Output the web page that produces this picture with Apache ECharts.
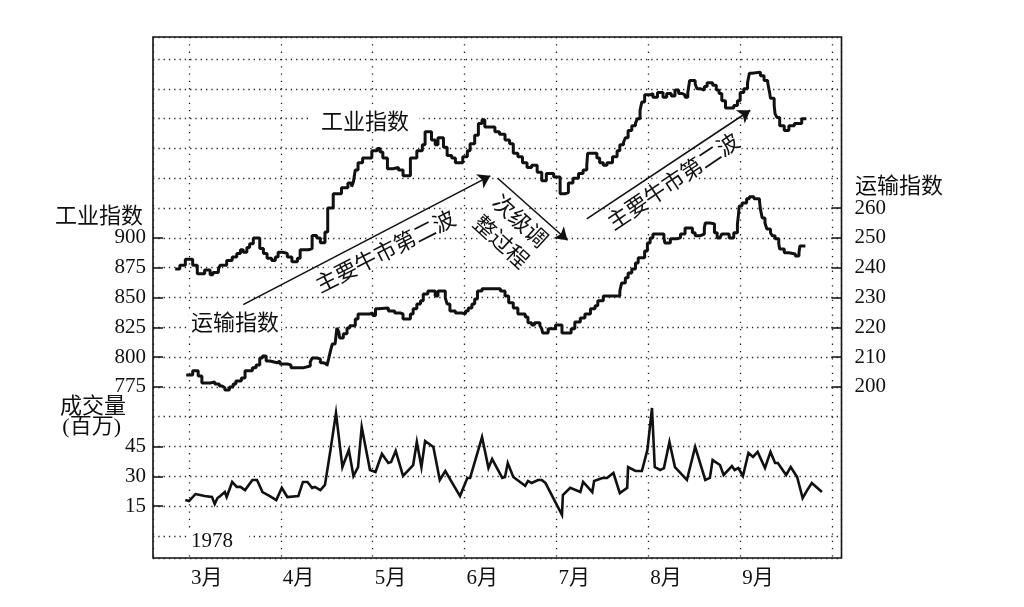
<!DOCTYPE html>
<html>
<head>
<meta charset="utf-8">
<script src="https://cdn.jsdelivr.net/npm/echarts@6.0.0/dist/echarts.min.js"></script>
<style>html,body{margin:0;padding:0;background:#fff}#c{width:1024px;height:607px}</style>
</head>
<body>
<div id="c"></div>
<script>
// x values are in months: 3 = 1 March 1978, 4 = 1 April, ...
const monthTicks = [3, 4, 5, 6, 7, 8, 9];
const industrialTicks = [775, 800, 825, 850, 875, 900];
const transportTicks = [200, 210, 220, 230, 240, 250, 260];
const volumeTicks = [15, 30, 45];

// Dow Jones Industrial Average (daily close, step line)
const industrialData = [
[2.85,874],[2.90,877],[2.96,882],[3.04,877],[3.09,870],[3.17,873],[3.23,869],[3.26,871],[3.32,874],[3.34,877],
[3.41,881],[3.47,884],[3.52,887],[3.56,890],[3.59,888],[3.63,892],[3.66,895],[3.70,900],[3.77,891],[3.81,887],
[3.85,883],[3.90,881],[3.94,884],[3.97,888],[4.02,887],[4.07,884],[4.12,880],[4.18,883],[4.21,890],[4.30,891],
[4.34,902],[4.39,900],[4.43,896],[4.48,905],[4.51,925],[4.57,937],[4.66,942],[4.73,946],[4.77,943],[4.79,947],
[4.81,957],[4.84,963],[4.89,967],[4.99,973],[5.05,975],[5.08,972],[5.11,967],[5.16,958],[5.22,959],[5.28,957],
[5.33,952],[5.41,967],[5.48,973],[5.54,978],[5.57,989],[5.64,982],[5.68,978],[5.71,984],[5.77,976],[5.81,969],
[5.86,967],[5.90,963],[5.98,968],[6.03,973],[6.06,979],[6.11,986],[6.15,996],[6.19,999],[6.22,993],[6.33,989],
[6.38,987],[6.44,982],[6.49,979],[6.53,971],[6.58,968],[6.63,963],[6.68,959],[6.73,961],[6.79,955],[6.84,948],
[6.89,954],[6.97,951],[7.04,937],[7.09,938],[7.13,946],[7.18,950],[7.24,954],[7.29,957],[7.33,961],[7.34,971],
[7.44,967],[7.47,963],[7.51,961],[7.55,963],[7.61,968],[7.66,973],[7.69,978],[7.73,980],[7.75,984],[7.78,990],
[7.82,994],[7.86,996],[7.88,1000],[7.91,1007],[7.93,1014],[7.96,1020],[8.02,1021],[8.05,1018],[8.10,1022],[8.16,1018],
[8.20,1021],[8.25,1019],[8.29,1024],[8.33,1021],[8.37,1020],[8.40,1018],[8.43,1022],[8.45,1032],[8.51,1029],[8.53,1025],
[8.57,1024],[8.61,1027],[8.64,1030],[8.70,1028],[8.74,1024],[8.77,1021],[8.80,1015],[8.84,1009],[8.87,1009],[8.93,1011],
[8.97,1015],[9.00,1022],[9.04,1025],[9.08,1030],[9.10,1038],[9.13,1039],[9.22,1036],[9.26,1032],[9.30,1030],[9.32,1022],
[9.33,1017],[9.37,1011],[9.38,1004],[9.40,1001],[9.43,994],[9.48,990],[9.53,994],[9.59,996],[9.67,1000],[9.72,1000]
];

// Dow Jones Transportation Average (daily close, step line)
const transportData = [
[2.97,204],[3.04,205.4],[3.10,203.7],[3.14,201.3],[3.23,201.7],[3.28,201],[3.33,200.3],[3.36,199.7],[3.39,199],[3.44,200],
[3.48,201],[3.51,202],[3.57,203],[3.61,205.4],[3.69,206.4],[3.73,207.4],[3.77,209.7],[3.80,210.4],[3.84,208.7],[3.88,208.1],
[3.96,208.7],[3.99,207.7],[4.07,207.4],[4.11,206.4],[4.24,207],[4.32,208.4],[4.34,209.7],[4.39,209.4],[4.43,208.1],[4.46,207.7],
[4.50,207],[4.52,209.4],[4.54,212.1],[4.56,214.4],[4.59,214.8],[4.61,219.8],[4.63,218.5],[4.64,216.4],[4.68,217.8],[4.72,219.8],
[4.75,220.5],[4.81,222.8],[4.84,224.5],[4.97,224.8],[5.00,224],[5.03,226.2],[5.06,226.5],[5.17,225.5],[5.24,224.8],[5.30,224.5],
[5.33,222.8],[5.41,224.5],[5.44,226.2],[5.48,227.8],[5.52,228.9],[5.55,231.2],[5.60,232.2],[5.68,230.5],[5.71,232.2],[5.79,229.9],
[5.81,227.8],[5.84,225.5],[5.90,224.8],[5.97,224.5],[6.01,225.5],[6.04,226.5],[6.08,227.8],[6.11,229.5],[6.14,232.2],[6.19,232.9],
[6.39,232.2],[6.44,230.5],[6.48,228.2],[6.53,226.5],[6.58,224.5],[6.66,223.5],[6.69,221.5],[6.73,220.8],[6.76,221.5],[6.82,220.5],
[6.84,219.5],[6.85,218.1],[6.91,219.5],[6.99,220.8],[7.06,218.1],[7.16,219.5],[7.20,221.8],[7.26,223.1],[7.31,224.5],[7.37,226.2],
[7.42,227.2],[7.45,228.9],[7.51,230.5],[7.69,232.2],[7.71,234.9],[7.75,236.6],[7.78,238.2],[7.82,239.6],[7.86,241.6],[7.89,243.3],
[7.96,245.6],[7.99,248.3],[8.02,250],[8.05,251.3],[8.17,250],[8.18,248.3],[8.24,249.7],[8.31,250],[8.35,251.3],[8.40,253.3],
[8.48,251.7],[8.51,250.7],[8.56,251.3],[8.61,253.3],[8.62,255],[8.67,254.7],[8.72,251.7],[8.75,250],[8.78,249.7],[8.80,251.3],
[8.88,250],[8.93,251.7],[8.97,254.7],[8.98,257.4],[8.99,260.7],[9.02,261.7],[9.07,263.1],[9.10,263.8],[9.15,263.1],[9.21,262.4],
[9.22,259.7],[9.24,256.7],[9.27,255],[9.29,253],[9.33,251.7],[9.35,250.7],[9.38,249.7],[9.42,248],[9.43,246.3],[9.48,245],
[9.53,244.6],[9.60,243.9],[9.64,245],[9.65,247.3],[9.71,247.3]
];

// NYSE volume, millions of shares
const volumeData = [
[2.96,18.1],[3.00,17.6],[3.07,21.1],[3.12,20.6],[3.17,20.1],[3.25,19.6],[3.28,16.1],[3.31,19.1],[3.34,20.1],[3.39,22.1],
[3.41,19.6],[3.47,27.2],[3.52,24.7],[3.56,24.7],[3.61,23.1],[3.69,28.2],[3.74,28.2],[3.80,22.1],[3.88,20.1],[3.95,18.1],
[4.01,24.2],[4.07,19.6],[4.19,20.1],[4.24,27.2],[4.29,27.2],[4.34,24.2],[4.37,24.7],[4.43,23.1],[4.48,25.7],[4.54,43.3],
[4.60,61.9],[4.67,34.7],[4.69,34.7],[4.74,43.3],[4.79,30.2],[4.84,34.7],[4.88,54.8],[4.97,33.2],[5.03,32.2],[5.10,41.3],
[5.17,36.7],[5.20,37.2],[5.25,42.8],[5.33,30.2],[5.44,35.7],[5.48,47.3],[5.53,34.7],[5.57,47.8],[5.60,46.8],[5.66,44.8],
[5.73,28.2],[5.79,32.7],[5.95,20.1],[6.03,29.2],[6.06,29.2],[6.19,49.8],[6.26,34.2],[6.30,38.7],[6.41,29.2],[6.44,29.7],
[6.47,36.7],[6.53,29.7],[6.66,25.2],[6.69,27.7],[6.73,26.7],[6.80,28.2],[6.84,28.2],[6.88,26.7],[6.96,19.6],[7.06,10.6],
[7.07,20.6],[7.15,24.2],[7.26,22.1],[7.29,27.2],[7.39,22.1],[7.41,27.7],[7.50,29.2],[7.55,29.2],[7.62,31.7],[7.69,21.6],
[7.77,24.2],[7.78,34.7],[7.86,32.7],[7.93,32.7],[7.99,43.3],[8.04,64.4],[8.07,34.7],[8.13,33.2],[8.17,34.2],[8.23,47.3],
[8.29,34.7],[8.42,28.2],[8.51,44.8],[8.62,28.2],[8.67,29.2],[8.70,38.2],[8.78,35.7],[8.82,30.7],[8.91,35.2],[8.94,33.2],
[8.98,34.2],[9.03,30.2],[9.09,41.8],[9.14,39.8],[9.19,42.3],[9.27,34.2],[9.33,42.3],[9.38,36.7],[9.41,36.7],[9.50,30.7],
[9.55,34.7],[9.62,29.7],[9.68,19.1],[9.73,23.1],[9.78,26.7],[9.89,22.1]
];

// Annotation arrows, in [month, industrial index] coordinates
const arrowPrimary1 = [[3.59, 844], [6.28, 952]];
const arrowSecondary = [[6.36, 950], [7.12, 898]];
const arrowPrimary2 = [[7.33, 916], [9.11, 1007]];

const INK = '#111';
const SERIF = '"Liberation Serif", "Noto Sans CJK SC", serif';
const CJK = '"Noto Sans CJK SC", sans-serif';

const chart = echarts.init(document.getElementById('c'), null, {renderer: 'canvas'});

const xMin = 2.608, xMax = 10.103;   // frame edges in months
const u0 = -0.738, u1 = 16.738;      // frame edges in grid-row units
const dotted = {color: '#222', width: 1.3, type: [1.3, 4]};
const dottedV = {color: '#222', width: 1.3, type: [1.3, 6]};

function tickAxis(extra) {
  return Object.assign({
    type: 'value',
    axisLine: {show: false},
    splitLine: {show: false},
    axisLabel: {fontFamily: SERIF, fontSize: 21, color: INK},
    axisTick: {inside: true, length: 10, lineStyle: {color: INK, width: 1.5}}
  }, extra);
}

const option = {
  animation: false,
  backgroundColor: '#fff',
  grid: {left: 153, right: 182.5, top: 37, bottom: 49, show: true,
         borderColor: INK, borderWidth: 1.6, backgroundColor: 'transparent'},
  xAxis: [
    {type: 'value', min: xMin, max: xMax, position: 'bottom',
     axisLine: {show: false}, axisTick: {show: false}, splitLine: {show: false},
     axisLabel: {customValues: monthTicks, formatter: v => v + '月', align: 'left',
                 padding: [0, 0, 0, 2], margin: 10, fontFamily: SERIF, fontSize: 21, color: INK}},
    {type: 'value', min: xMin, max: xMax, position: 'bottom', minInterval: 1, maxInterval: 1, splitNumber: 7,
     axisLine: {show: false}, axisTick: {show: false}, axisLabel: {show: false},
     splitLine: {show: true, lineStyle: dottedV}}
  ],
  yAxis: [
    tickAxis({position: 'left', min: 650 + 25 * u0, max: 650 + 25 * u1,
      axisLabel: {customValues: industrialTicks, margin: 7, fontFamily: SERIF, fontSize: 21, color: INK},
      axisTick: {customValues: industrialTicks, inside: true, length: 10, lineStyle: {color: INK, width: 1.5}}}),
    tickAxis({position: 'right', min: 150 + 10 * u0, max: 150 + 10 * u1,
      axisLabel: {customValues: transportTicks, margin: 13, fontFamily: SERIF, fontSize: 21, color: INK},
      axisTick: {customValues: transportTicks, inside: true, length: 10, lineStyle: {color: INK, width: 1.5}}}),
    tickAxis({position: 'left', min: 15 * u0, max: 15 * u1,
      axisLabel: {customValues: volumeTicks, margin: 7, fontFamily: SERIF, fontSize: 21, color: INK},
      axisTick: {customValues: volumeTicks, inside: true, length: 10, lineStyle: {color: INK, width: 1.5}}}),
    {type: 'value', min: u0, max: u1, position: 'left', minInterval: 1, maxInterval: 1, splitNumber: 17,
     axisLine: {show: false}, axisTick: {show: false}, axisLabel: {show: false},
     splitLine: {show: true, lineStyle: dotted}}
  ],
  series: [
    {name: '工业指数', type: 'line', step: 'end', xAxisIndex: 0, yAxisIndex: 0, data: industrialData,
     showSymbol: false, symbol: 'none', lineStyle: {color: INK, width: 3}, silent: true, z: 3,
     markLine: {silent: true, symbol: ['none', 'arrow'], symbolSize: 12, symbolOffset: 0,
       label: {show: false}, lineStyle: {color: INK, width: 1.6, type: 'solid'},
       itemStyle: {color: INK},
       data: [arrowPrimary1, arrowSecondary, arrowPrimary2].map(a => [{coord: a[0]}, {coord: a[1]}])}},
    {name: '运输指数', type: 'line', step: 'end', xAxisIndex: 0, yAxisIndex: 1, data: transportData,
     showSymbol: false, symbol: 'none', lineStyle: {color: INK, width: 3}, silent: true, z: 3},
    {name: '成交量', type: 'line', xAxisIndex: 0, yAxisIndex: 2, data: volumeData,
     showSymbol: false, symbol: 'none', lineStyle: {color: INK, width: 2.6, join: 'miter'}, silent: true, z: 3}
  ],
  graphic: [
    {type: 'text', x: 143, y: 215, z: 1, style: {text: '工业指数', font: '22px ' + CJK, fill: INK, align: 'right', verticalAlign: 'middle'}},
    {type: 'text', x: 855, y: 185, z: 1, style: {text: '运输指数', font: '22px ' + CJK, fill: INK, align: 'left', verticalAlign: 'middle'}},
    {type: 'text', x: 126, y: 405, z: 1, style: {text: '成交量', font: '22px ' + CJK, fill: INK, align: 'right', verticalAlign: 'middle'}},
    {type: 'text', x: 121, y: 427, z: 1, style: {text: '(百万)', font: '22px ' + SERIF, fill: INK, align: 'right', verticalAlign: 'middle'}},
    {type: 'text', x: 365, y: 121, z: 1, style: {text: '工业指数', font: '22px ' + CJK, fill: INK, align: 'center', verticalAlign: 'middle', backgroundColor: '#fff', padding: [0, 10]}},
    {type: 'text', x: 235, y: 322, z: 1, style: {text: '运输指数', font: '22px ' + CJK, fill: INK, align: 'center', verticalAlign: 'middle', backgroundColor: '#fff', padding: [0, 2]}},
    {type: 'text', x: 188, y: 541, z: 1, style: {text: '1978', font: '21px ' + SERIF, fill: INK, align: 'left', verticalAlign: 'middle', backgroundColor: '#fff', padding: [2, 16, 2, 3]}},
    {type: 'text', x: 385, y: 251, rotation: 0.47, z: 1, style: {text: '主要牛市第二波', font: '22px ' + CJK, fill: INK, align: 'center', verticalAlign: 'middle', backgroundColor: '#fff', padding: [0, 2]}},
    {type: 'text', x: 511, y: 231, rotation: -0.74, z: 1, style: {text: '次级调\n整过程', font: '22px ' + CJK, lineHeight: 28, fill: INK, align: 'center', verticalAlign: 'middle', backgroundColor: '#fff', padding: [0, 2]}},
    {type: 'text', x: 673, y: 181, rotation: 0.59, z: 1, style: {text: '主要牛市第二波', font: '22px ' + CJK, fill: INK, align: 'center', verticalAlign: 'middle', backgroundColor: '#fff', padding: [0, 2]}}
  ]
};
chart.setOption(option);
</script>
</body>
</html>
